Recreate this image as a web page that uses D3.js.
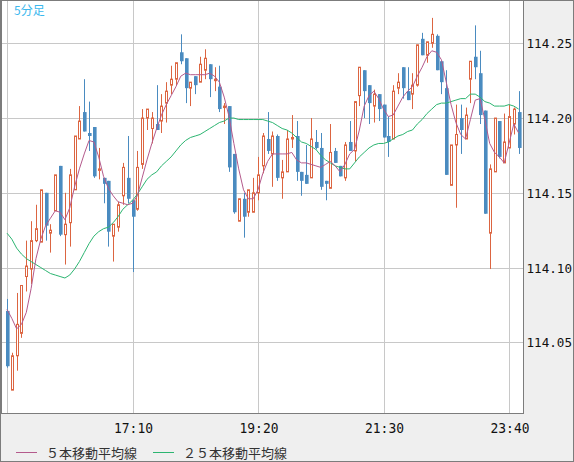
<!DOCTYPE html>
<meta charset="utf-8">
<style>
body { margin: 0; background: #fff; }
.axis-label { font-family: "DejaVu Sans Mono", monospace; font-size: 14px; fill: #111; }
.price-label { font-family: "DejaVu Sans Mono", monospace; font-size: 12.6px; fill: #111; }
.legend { font-family: "Noto Sans CJK JP", sans-serif; font-size: 13px; fill: #333; }
</style>
<body>
<script src="https://d3js.org/d3.v7.min.js"></script>
<script>

// 5 minute candles, first one at 15:00
var startTime = "15:00";
var gridTimes = ["15:00", "17:10", "19:20", "21:30", "23:40"];
var priceTicks = [114.05, 114.10, 114.15, 114.20, 114.25];

var opens = [114.071,114.018,114.041,114.056,114.094,114.099,114.118,114.117,114.150,114.123,
  114.138,114.168,114.122,114.130,114.152,114.186,114.204,114.190,114.194,114.165,
  114.160,114.158,114.121,114.127,114.148,114.160,114.145,114.139,114.169,114.200,
  114.193,114.196,114.198,114.210,114.222,114.226,114.244,114.240,114.220,114.228,
  114.224,114.232,114.236,114.225,114.221,114.207,114.208,114.176,114.131,114.146,
  114.137,114.137,114.150,114.168,114.186,114.176,114.188,114.160,114.164,114.186,
  114.188,114.164,114.162,114.160,114.184,114.180,114.158,114.153,114.178,114.168,
  114.160,114.184,114.178,114.215,114.232,114.222,114.208,114.216,114.209,114.188,
  114.186,114.220,114.234,114.218,114.216,114.222,114.253,114.242,114.250,114.255,
  114.238,114.220,114.155,114.182,114.200,114.186,114.226,114.241,114.230,114.205,
  114.123,114.164,114.198,114.170,114.180,114.196,114.204];

var highs = [114.079,114.043,114.083,114.088,114.118,114.131,114.142,114.152,114.150,114.129,
  114.162,114.168,114.150,114.166,114.188,114.208,114.226,114.211,114.194,114.180,
  114.160,114.158,114.129,114.144,114.170,114.188,114.145,114.178,114.206,114.206,
  114.204,114.222,114.216,114.224,114.235,114.237,114.256,114.240,114.224,114.228,
  114.241,114.246,114.236,114.234,114.235,114.210,114.208,114.176,114.146,114.150,
  114.152,114.160,114.174,114.190,114.204,114.191,114.189,114.172,114.192,114.202,
  114.198,114.164,114.182,114.200,114.192,114.190,114.158,114.196,114.180,114.168,
  114.184,114.198,114.211,114.234,114.232,114.222,114.219,114.216,114.209,114.201,
  114.222,114.230,114.234,114.234,114.230,114.249,114.257,114.251,114.267,114.256,
  114.238,114.232,114.182,114.209,114.209,114.207,114.238,114.262,114.245,114.205,
  114.169,114.200,114.198,114.203,114.209,114.207,114.218];

var lows = [114.033,114.018,114.031,114.053,114.084,114.089,114.117,114.117,114.118,114.110,
  114.138,114.121,114.102,114.114,114.152,114.186,114.191,114.178,114.160,114.159,
  114.143,114.114,114.104,114.124,114.142,114.143,114.097,114.138,114.166,114.192,
  114.183,114.192,114.190,114.197,114.216,114.222,114.236,114.210,114.208,114.216,
  114.224,114.226,114.214,114.218,114.204,114.196,114.164,114.136,114.131,114.120,
  114.134,114.137,114.145,114.163,114.176,114.154,114.158,114.146,114.164,114.180,
  114.158,114.148,114.156,114.160,114.179,114.152,114.145,114.153,114.170,114.161,
  114.158,114.178,114.171,114.208,114.200,114.196,114.197,114.198,114.187,114.174,
  114.186,114.216,114.213,114.212,114.206,114.221,114.242,114.237,114.247,114.232,
  114.216,114.162,114.155,114.140,114.176,114.186,114.210,114.226,114.196,114.136,
  114.099,114.164,114.173,114.170,114.180,114.189,114.176];

var closes = [114.034,114.041,114.062,114.088,114.101,114.118,114.126,114.152,114.128,114.125,
  114.162,114.122,114.129,114.162,114.188,114.198,114.191,114.188,114.161,114.166,
  114.156,114.124,114.129,114.142,114.167,114.146,114.134,114.167,114.200,114.206,
  114.200,114.192,114.208,114.218,114.226,114.237,114.238,114.220,114.224,114.222,
  114.236,114.240,114.226,114.226,114.206,114.208,114.167,114.137,114.146,114.134,
  114.152,114.150,114.162,114.188,114.178,114.188,114.160,114.164,114.186,114.187,
  114.164,114.158,114.156,114.186,114.180,114.154,114.156,114.177,114.170,114.161,
  114.182,114.178,114.211,114.234,114.218,114.210,114.216,114.206,114.187,114.184,
  114.218,114.224,114.220,114.212,114.222,114.249,114.242,114.251,114.256,114.232,
  114.224,114.162,114.182,114.189,114.192,114.202,114.238,114.234,114.202,114.136,
  114.166,114.200,114.174,114.184,114.201,114.206,114.180];

// moving averages as drawn on the chart
var ma5 = [114.072,114.066,114.059,114.062,114.070,114.086,114.106,114.119,114.128,114.133,
  114.138,114.137,114.132,114.140,114.154,114.166,114.176,114.185,114.184,114.174,
  114.161,114.153,114.148,114.144,114.143,114.142,114.143,114.148,114.160,114.172,
  114.183,114.193,114.202,114.209,114.215,114.221,114.228,114.230,114.229,114.229,
  114.229,114.229,114.230,114.228,114.224,114.214,114.201,114.183,114.166,114.152,
  114.146,114.146,114.152,114.163,114.171,114.176,114.176,114.176,114.176,114.177,
  114.172,114.170,114.170,114.169,114.168,114.167,114.169,114.171,114.168,114.164,
  114.169,114.176,114.179,114.192,114.208,114.215,114.218,114.213,114.206,114.201,
  114.202,114.208,114.214,114.218,114.221,114.228,114.234,114.241,114.245,114.244,
  114.239,114.224,114.209,114.197,114.189,114.186,114.199,114.212,114.213,114.199,
  114.183,114.177,114.174,114.170,114.183,114.196,114.190];

var ma25 = [114.123,114.119,114.113,114.109,114.106,114.104,114.102,114.100,114.098,114.096,
  114.095,114.094,114.093,114.095,114.099,114.104,114.110,114.116,114.121,114.124,
  114.126,114.127,114.130,114.134,114.139,114.142,114.145,114.149,114.154,114.159,
  114.162,114.164,114.168,114.171,114.174,114.178,114.182,114.185,114.187,114.188,
  114.189,114.191,114.193,114.195,114.197,114.198,114.200,114.200,114.199,114.199,
  114.199,114.199,114.199,114.199,114.198,114.197,114.195,114.193,114.192,114.190,
  114.187,114.184,114.183,114.181,114.179,114.175,114.172,114.170,114.168,114.167,
  114.166,114.166,114.170,114.174,114.177,114.180,114.182,114.183,114.183,114.184,
  114.186,114.188,114.189,114.191,114.192,114.196,114.199,114.203,114.206,114.209,
  114.210,114.210,114.211,114.212,114.213,114.213,114.216,114.216,114.214,114.211,
  114.210,114.208,114.208,114.208,114.209,114.208,114.206];

var W = 574, H = 462;
var plot = {left: 2, top: 1, right: 523, bottom: 413};

var parseTime = d3.timeParse("%H:%M");
var t0 = parseTime(startTime);

var candles = opens.map(function(o, i) {
  return {t: d3.timeMinute.offset(t0, 5 * i), o: o, h: highs[i], l: lows[i], c: closes[i]};
});

var x = d3.scaleTime()
    .domain([parseTime("15:00"), parseTime("23:40")])
    .range([7, 509]);
var y = d3.scaleLinear()
    .domain([114.05, 114.25])
    .range([342.3, 43.3]);

var svg = d3.select("body").append("svg")
    .attr("width", W)
    .attr("height", H);

// panels
svg.append("rect").attr("width", W).attr("height", H).attr("fill", "#efefef");
svg.append("rect")
    .attr("x", 0.5).attr("y", 0.5).attr("width", W - 1).attr("height", H - 1)
    .attr("fill", "none").attr("stroke", "#7c7c7c");
svg.append("rect")
    .attr("x", plot.left - 0.5).attr("y", plot.top - 0.5)
    .attr("width", plot.right - plot.left + 1).attr("height", plot.bottom - plot.top + 1)
    .attr("fill", "#fff").attr("stroke", "#7c7c7c");

svg.append("clipPath").attr("id", "clip")
  .append("rect")
    .attr("x", plot.left).attr("y", plot.top)
    .attr("width", plot.right - plot.left).attr("height", plot.bottom - plot.top);

var grid = svg.append("g").attr("stroke", "#c8c8c8").attr("stroke-width", 1);
grid.selectAll(".hg").data(priceTicks).enter().append("line")
    .attr("x1", plot.left).attr("x2", plot.right)
    .attr("y1", function(d) { return Math.round(y(d)) + 0.5; })
    .attr("y2", function(d) { return Math.round(y(d)) + 0.5; });
grid.selectAll(".vg").data(gridTimes).enter().append("line")
    .attr("x1", function(d) { return Math.round(x(parseTime(d))) + 0.5; })
    .attr("x2", function(d) { return Math.round(x(parseTime(d))) + 0.5; })
    .attr("y1", plot.top).attr("y2", plot.bottom);

// price labels
svg.selectAll(".ylab").data(priceTicks).enter().append("text")
    .attr("class", "price-label")
    .attr("x", 526.5)
    .attr("y", function(d) { return y(d) + 5; })
    .text(function(d) { return d3.format(".2f")(d); });

// time labels (first one sits on the edge and is not printed)
svg.selectAll(".xlab").data(gridTimes.slice(1)).enter().append("text")
    .attr("class", "axis-label")
    .attr("x", function(d) { return x(parseTime(d)) + 1; })
    .attr("y", 432.5)
    .attr("text-anchor", "middle")
    .attr("textLength", 39).attr("lengthAdjust", "spacingAndGlyphs")
    .text(function(d) { return d; });

var chart = svg.append("g").attr("clip-path", "url(#clip)");

var upColor = "#dc6541", downColor = "#4a8bc0";

var cg = chart.selectAll(".candle").data(candles).enter().append("g");
cg.append("line")
    .attr("x1", function(d) { return Math.round(x(d.t)) + 0.5; })
    .attr("x2", function(d) { return Math.round(x(d.t)) + 0.5; })
    .attr("y1", function(d) { return y(d.h); })
    .attr("y2", function(d) { return y(d.l); })
    .attr("stroke", function(d) { return d.c >= d.o ? upColor : downColor; });
cg.append("rect")
    .attr("x", function(d) {
      return d.c >= d.o ? Math.round(x(d.t)) - 0.5 : Math.round(x(d.t)) - 1; })
    .attr("y", function(d) {
      return d.c >= d.o ? y(d.c) : y(d.o); })
    .attr("width", function(d) { return d.c >= d.o ? 2 : 3.6; })
    .attr("height", function(d) { return Math.max(1, Math.abs(y(d.o) - y(d.c))); })
    .attr("fill", function(d) { return d.c >= d.o ? "#fff" : downColor; })
    .attr("stroke", function(d) { return d.c >= d.o ? upColor : "none"; });

var line = function(vals) {
  return d3.line()
    .x(function(d, i) { return x(candles[i].t); })
    .y(function(d) { return y(d); })(vals);
};

chart.append("path").attr("d", line(ma25))
    .attr("fill", "none").attr("stroke", "#2cb571").attr("stroke-width", 1);
chart.append("path").attr("d", line(ma5))
    .attr("fill", "none").attr("stroke", "#b45a8c").attr("stroke-width", 1);

// title
svg.append("text")
    .attr("x", 14).attr("y", 15)
    .attr("font-family", "'Noto Sans CJK JP', sans-serif")
    .attr("font-size", 12)
    .attr("fill", "#3bb8ee")
    .text("5分足");

// legend
var legend = [
  {label: "５本移動平均線", color: "#b45a8c", x: 16},
  {label: "２５本移動平均線", color: "#2cb571", x: 153}
];
var lg = svg.selectAll(".lg").data(legend).enter().append("g");
lg.append("line")
    .attr("x1", function(d) { return d.x; })
    .attr("x2", function(d) { return d.x + 21; })
    .attr("y1", 452.5).attr("y2", 452.5)
    .attr("stroke", function(d) { return d.color; });
lg.append("text")
    .attr("class", "legend")
    .attr("x", function(d) { return d.x + 30; })
    .attr("y", 457.5)
    .text(function(d) { return d.label; });

</script>
</body>
